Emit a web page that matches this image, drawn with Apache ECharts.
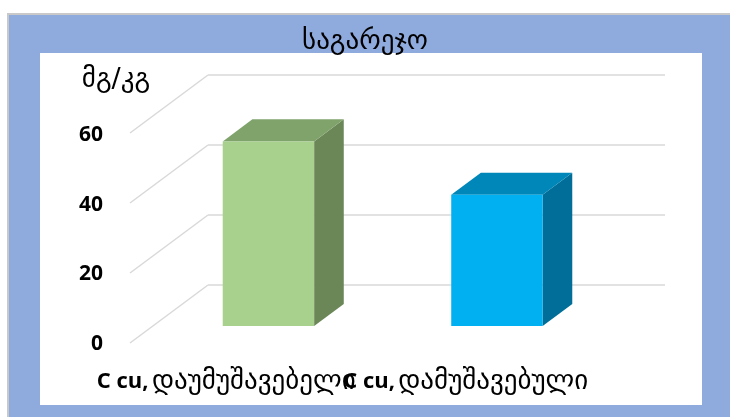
<!DOCTYPE html>
<html><head><meta charset="utf-8">
<script src="https://cdn.jsdelivr.net/npm/echarts@6/dist/echarts.min.js"></script>
<style>html,body{margin:0;padding:0;background:#fff}#c{width:730px;height:417px}</style>
</head><body><div id="c"></div>
<script>
// ---- data ----
const chartTitle = 'საგარეჯო';
const unitLabel = 'მგ/კგ';
const categories = ['C cu, დაუმუშავებელი', 'C cu, დამუშავებული'];
const values = [53, 37.7];
const yMin = 0, yMax = 60, yStep = 20;
const gridTickValues = [0, 20, 40, 60];

// ---- styling ----
const faceColors = [
  {front: '#A9D18E', side: '#6B8758', top: '#7FA36B'},
  {front: '#00B0F0', side: '#006E98', top: '#0087B9'}
];
const labelShift = [36, 14];               // right padding to nudge labels left
const DEPTH = {dx: 78, dy: -58};          // front plane -> back wall offset
const BAR_DEPTH_START = 0.31, BAR_DEPTH = 0.38;
const GEO_FONT = '"DejaVu Sans", sans-serif';

const chart = echarts.init(document.getElementById('c'), null, {renderer: 'canvas'});

const option = {
  backgroundColor: '#ffffff',
  animation: false,
  title: {
    text: chartTitle, left: 'center', top: 23,
    textStyle: {fontFamily: GEO_FONT, fontSize: 27, fontWeight: 'normal', color: '#000'}
  },
  graphic: [
    {type: 'rect', z: -10, shape: {x: 7, y: 13, width: 730, height: 410}, style: {fill: '#c9c9c9'}},
    {type: 'rect', z: -10, shape: {x: 9, y: 15, width: 730, height: 410}, style: {fill: '#8FAADC'}},
    {type: 'rect', z: -10, shape: {x: 40, y: 53, width: 662, height: 352}, style: {fill: '#ffffff'}}
  ],
  grid: [
    {left: 130, top: 135, width: 457, height: 209},   // front plane
    {left: 208, top: 75, width: 457, height: 210}     // back wall
  ],
  xAxis: [
    {
      gridIndex: 0, type: 'category',
      data: categories.map((c, i) => ({value: c, textStyle: {padding: [0, labelShift[i], 0, 0]}})),
      axisLine: {show: false}, axisTick: {show: false},
      axisLabel: {
        interval: 0, margin: 24, hideOverlap: false,
        formatter: function (v) {
          const i = v.indexOf(',');
          return '{b|' + v.slice(0, i + 1) + '} {g|' + v.slice(i + 2) + '}';
        },
        rich: {
          b: {fontFamily: '"Open Sans", sans-serif', fontWeight: 'bold', fontSize: 22, color: '#000'},
          g: {fontFamily: GEO_FONT, fontSize: 27, color: '#000'}
        }
      }
    },
    {gridIndex: 1, type: 'value', min: 0, max: 1, show: false}
  ],
  yAxis: [
    {
      gridIndex: 0, type: 'value', min: yMin, max: yMax, interval: yStep,
      name: unitLabel, nameLocation: 'end', nameGap: 42,
      nameTextStyle: {fontFamily: GEO_FONT, fontSize: 27, color: '#000', align: 'center', padding: [0, 28, 0, 0]},
      axisLine: {show: false}, axisTick: {show: false}, splitLine: {show: false},
      axisLabel: {margin: 27, fontFamily: '"Open Sans", sans-serif', fontWeight: 'bold', fontSize: 21, color: '#000'}
    },
    {
      gridIndex: 1, type: 'value', min: yMin, max: yMax, interval: yStep,
      axisLine: {show: false}, axisTick: {show: false}, axisLabel: {show: false},
      splitLine: {show: true, lineStyle: {color: '#d9d9d9', width: 1.5}}
    }
  ],
  series: [
    {
      type: 'custom', xAxisIndex: 1, yAxisIndex: 1, silent: true, z: 1,
      data: gridTickValues.map(v => [0, v]),
      renderItem: function (params, api) {
        const p = api.coord([0, api.value(1)]);
        return {
          type: 'line',
          shape: {x1: p[0], y1: p[1], x2: p[0] - DEPTH.dx, y2: p[1] - DEPTH.dy},
          style: {stroke: '#d9d9d9', lineWidth: 1.5}
        };
      }
    },
    {
      type: 'custom', xAxisIndex: 0, yAxisIndex: 0, z: 3,
      data: values.map((v, i) => [i, v]),
      renderItem: function (params, api) {
        const ci = api.value(0), v = api.value(1);
        const top = api.coord([ci, v]);
        const base = api.coord([ci, 0]);
        const w = api.size([1, 0])[0] * 0.4;
        const sx = DEPTH.dx * BAR_DEPTH_START, sy = DEPTH.dy * BAR_DEPTH_START;
        const ddx = DEPTH.dx * BAR_DEPTH, ddy = DEPTH.dy * BAR_DEPTH;
        const x0 = top[0] - w / 2 + sx, x1 = x0 + w;
        const y0 = top[1] + sy, y1 = base[1] + sy;
        const c = faceColors[params.dataIndex];
        return {
          type: 'group',
          children: [
            {type: 'polygon', shape: {points: [[x1, y0], [x1 + ddx, y0 + ddy], [x1 + ddx, y1 + ddy], [x1, y1]]}, style: {fill: c.side}},
            {type: 'polygon', shape: {points: [[x0, y0], [x1, y0], [x1 + ddx, y0 + ddy], [x0 + ddx, y0 + ddy]]}, style: {fill: c.top}},
            {type: 'rect', shape: {x: x0, y: y0, width: w, height: y1 - y0}, style: {fill: c.front}}
          ]
        };
      }
    }
  ]
};
chart.setOption(option);
</script>
</body></html>
